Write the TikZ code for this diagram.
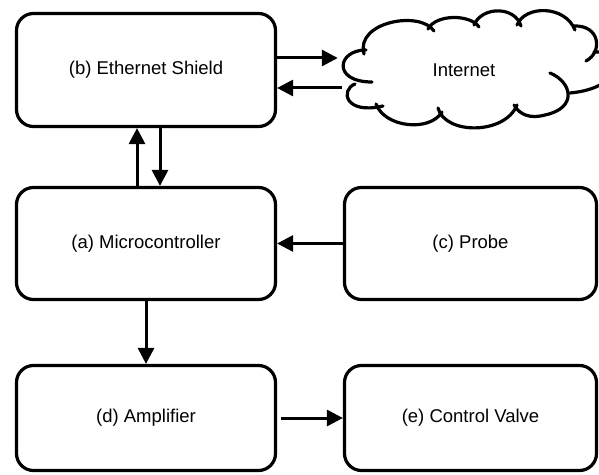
\documentclass[tikz,border=0pt]{standalone}
\usepackage{fontspec}
\setmainfont{Liberation Sans}
\usetikzlibrary{arrows.meta,calc}
\begin{document}
\begin{tikzpicture}[x=1pt,y=1pt,
  blk/.style={draw, line width=3.2pt, rounded corners=17pt, font=\fontsize{18.5}{22}\selectfont, align=center, inner sep=0pt},
  cldtext/.style={font=\fontsize{18.5}{22}\selectfont, inner sep=0pt, minimum width=252, minimum height=100},
  cldline/.style={line width=3.2pt, line cap=round},
  arr/.style={line width=3pt, -{Triangle[length=16pt,width=16pt]}}]
\useasboundingbox (0,0) rectangle (599,474);
\node[blk, minimum width=259, minimum height=113] (b) at (146,404) {(b) Ethernet Shield};
\node[cldtext] (cloud) at (464,404) {Internet};
\node[blk, minimum width=259, minimum height=112] (a) at (146,230.5) {(a) Microcontroller};
\node[blk, minimum width=252, minimum height=112] (c) at (470.5,230.5) {(c) Probe};
\node[blk, minimum width=259, minimum height=105] (d) at (146,56) {(d) Amplifier};
\node[blk, minimum width=252, minimum height=105] (e) at (470.5,56) {(e) Control Valve};
% cloud outline (pixel coordinates, y downward)
\begin{scope}[yshift=474pt, yscale=-1, cldline]
  \draw (366,50) .. controls (337,50) and (332,82) .. (372,82);
  \draw (355,84) .. controls (340,90) and (345,115) .. (383,106);
  \draw (376,104) .. controls (385,128) and (430,132) .. (442,112);
  \draw (438,108) .. controls (445,135) and (505,135) .. (517,105);
  \draw (550,73) .. controls (572,82) and (578,108) .. (545,115)
        .. controls (530,119) and (520,115) .. (514,105);
  \draw (570,93) .. controls (625,88) and (625,50) .. (594,52);
  \draw (574,26) .. controls (600,25) and (603,52) .. (586,61);
  \draw (517,25) .. controls (525,5) and (565,5) .. (575,30);
  \draw (474,25) .. controls (482,6) and (515,6) .. (521,26);
  \draw (428,29) .. controls (436,14) and (470,14) .. (479,27);
  \draw (364,54) .. controls (355,22) and (420,10) .. (434,31);
\end{scope}
\draw[arr] ([yshift=12]b.east) -- ([yshift=12]b.east -| cloud.west);
\draw[arr] ([xshift=4,yshift=-18]b.east -| cloud.west) -- ([yshift=-18]b.east);
\draw[arr] ([xshift=-9]a.north) -- ([xshift=-9]b.south);
\draw[arr] ([xshift=14]b.south) -- ([xshift=14]a.north);
\draw[arr] (c.west) -- (a.east);
\draw[arr] (a.south) -- (d.north);
\draw[arr] ([xshift=4]d.east) -- (e.west);
\end{tikzpicture}
\end{document}
